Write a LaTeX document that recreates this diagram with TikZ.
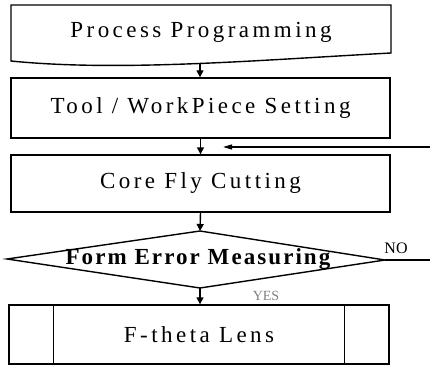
\documentclass[tikz,border=0pt]{standalone}
\usepackage{fontspec}
\setmainfont{Liberation Serif}
\newfontfamily\flowfont[LetterSpace=15]{Liberation Serif}
\newfontfamily\flowboldfont[LetterSpace=9]{Liberation Serif Bold}
\usetikzlibrary{arrows.meta}

\tikzset{
  flowtext/.style={inner sep=0pt, font=\flowfont\fontsize{23}{26}\selectfont},
  flowbox/.style={flowtext, draw, line width=1.4pt, minimum width=379pt, minimum height=60pt},
  flowline/.style={line width=1.4pt},
  flowarrow/.style={line width=1.4pt, -{Triangle[length=7pt,width=7pt]}},
  feedarrow/.style={line width=1.4pt, -{Triangle[length=9pt,width=5pt]}},
}

\begin{document}
\begin{tikzpicture}[x=1pt,y=-1pt]
\useasboundingbox (0,0) rectangle (430,366);
% document shape with the wavy bottom
\draw[flowline] (11,61) -- (11,5) -- (391,5) -- (391,53)
  .. controls (260,60) and (120,72) .. (11,61) -- cycle;
\node[flowtext] (prog) at (201,32) {Process Programming};
\coordinate (progbot) at (200,64);

\node[flowbox] (setting) at (200.5,108) {Tool / WorkPiece Setting};
\node[flowbox, minimum height=57pt] (cutting) at (200.5,183.5) {Core Fly Cutting};

% decision
\coordinate (dtop) at (200,231);
\coordinate (dleft) at (7,259);
\coordinate (dbot) at (200,288);
\coordinate (dright) at (385,260);
\draw[flowline] (dtop) -- (dright) -- (dbot) -- (dleft) -- cycle;
\node[flowtext, font=\flowboldfont\fontsize{23}{26}\selectfont] (measure) at (198,259) {Form Error Measuring};

% predefined process
\node[flowbox, minimum width=380pt, minimum height=59pt] (lens) at (199,334.5) {F-theta Lens};
\draw[flowline] ([xshift=45pt]lens.north west) -- ([xshift=45pt]lens.south west);
\draw[flowline] ([xshift=-45pt]lens.north east) -- ([xshift=-45pt]lens.south east);

% connectors
\draw[flowarrow] (progbot) -- (progbot |- setting.north);
\draw[flowarrow] (setting.south) -- (cutting.north);
\draw[flowarrow] (cutting.south) -- (dtop);
\draw[flowarrow] (dbot) -- (dbot |- lens.north);

\coordinate (loopin) at (430,147);
\coordinate (loopend) at (223,147);
\draw[feedarrow] (loopin) -- (loopend);
\coordinate (noout) at (430,260);
\draw[flowline] (dright) -- (noout);

\node[font=\fontsize{16}{18}\selectfont] (no) at (396,248) {NO};
\node[text=gray, font=\fontsize{14}{16}\selectfont] (yes) at (266,296) {YES};
\end{tikzpicture}
\end{document}
